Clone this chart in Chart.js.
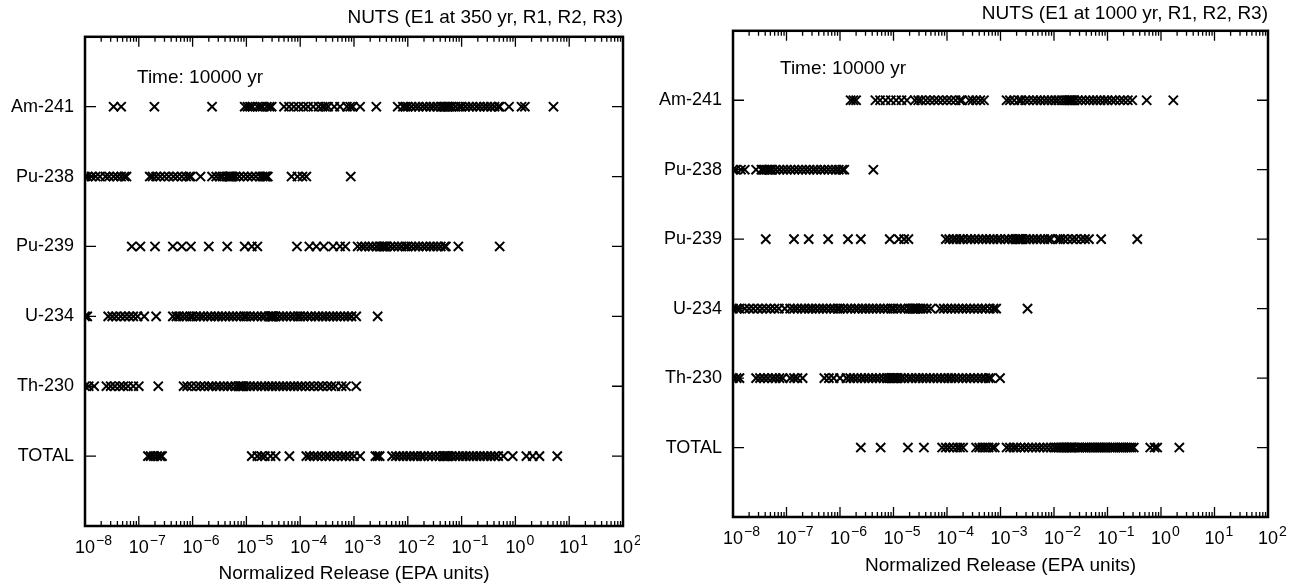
<!DOCTYPE html>
<html>
<head>
<meta charset="utf-8">
<script src="https://cdn.jsdelivr.net/npm/chart.js@4.4.0/dist/chart.umd.min.js"></script>
<style>
html,body{margin:0;padding:0;background:#fff;}
#wrapL{position:absolute;left:0;top:0;width:640px;height:585px;}
#wrapR{position:absolute;left:640px;top:0;width:650px;height:585px;}
</style>
</head>
<body>
<div id="wrapL"><canvas id="cL"></canvas></div>
<div id="wrapR"><canvas id="cR"></canvas></div>
<script>
// ---------- categories & tick labels ----------
const categories = ['Am-241', 'Pu-238', 'Pu-239', 'U-234', 'Th-230', 'TOTAL'];
const xTickValues = [1e-8, 1e-7, 1e-6, 1e-5, 1e-4, 1e-3, 1e-2, 1e-1, 1e0, 1e1, 1e2];
const xTickBase = '10';
const xTickExponents = ['−8', '−7', '−6', '−5', '−4', '−3', '−2', '−1', '0', '1', '2'];
const titleLeft = 'NUTS (E1 at 350 yr, R1, R2, R3)';
const titleRight = 'NUTS (E1 at 1000 yr, R1, R2, R3)';
const timeNote = 'Time: 10000 yr';
const xAxisTitle = 'Normalized Release (EPA units)';

// ---------- left panel: E1 at 350 yr ----------
const am241_350 = [3.4e-8, 4.7e-8, 1.95e-7, 2.3e-6,
  9.3e-6, 1.05e-5, 1.17e-5, 1.3e-5, 1.6e-5, 1.8e-5, 2.0e-5, 2.4e-5, 2.7e-5, 2.95e-5,
  5.0e-5, 6.2e-5, 7.6e-5, 9.3e-5, 1.15e-4, 1.4e-4, 1.75e-4, 2.2e-4, 2.6e-4, 2.9e-4, 3.3e-4, 4.3e-4, 5.5e-4,
  7.4e-4, 8.5e-4, 9.5e-4, 1.3e-3,
  2.6e-3, 6.5e-3,
  8.1e-3, 9.0e-3, 1.0e-2, 1.17e-2, 1.38e-2, 1.6e-2, 1.9e-2, 2.2e-2, 2.6e-2, 3.0e-2, 3.5e-2, 4.1e-2, 4.5e-2, 4.8e-2, 5.1e-2, 5.4e-2, 5.6e-2, 6.0e-2, 6.6e-2, 7.7e-2, 9.0e-2, 0.1, 0.117, 0.138, 0.16, 0.19, 0.22, 0.26, 0.3, 0.35, 0.41, 0.48, 0.51,
  0.76, 1.3, 1.5, 5.1];
const pu238_350 = [1.0e-8, 1.12e-8, 1.32e-8, 1.58e-8, 1.9e-8, 2.4e-8, 2.8e-8, 3.4e-8, 4.0e-8, 4.7e-8, 5.4e-8, 5.9e-8,
  1.6e-7, 1.8e-7, 2.1e-7, 2.5e-7, 3.0e-7, 3.6e-7, 4.4e-7, 5.2e-7, 6.3e-7, 7.6e-7, 8.7e-7, 9.3e-7,
  1.4e-6,
  2.3e-6, 2.75e-6, 3.2e-6, 3.6e-6, 4.2e-6, 4.7e-6, 4.85e-6, 5.0e-6, 5.2e-6, 5.6e-6, 6.3e-6, 7.4e-6, 8.9e-6, 1.06e-5, 1.26e-5, 1.5e-5, 1.8e-5, 2.0e-5, 2.2e-5, 2.3e-5, 2.4e-5, 2.5e-5,
  6.9e-5, 8.9e-5, 1.1e-4, 1.3e-4,
  8.7e-4];
const pu239_350 = [7.4e-8, 1.07e-7, 2.0e-7, 4.3e-7, 6.3e-7, 9.3e-7, 2.0e-6, 4.4e-6, 9.3e-6, 1.26e-5, 1.6e-5,
  8.7e-5, 1.48e-4, 2.0e-4, 2.75e-4, 4.1e-4, 5.5e-4, 6.9e-4,
  1.17e-3, 1.38e-3, 1.6e-3, 1.9e-3, 2.2e-3, 2.6e-3, 3.0e-3, 3.3e-3, 3.5e-3, 3.7e-3, 3.9e-3, 4.1e-3, 4.8e-3, 5.6e-3, 6.6e-3, 7.7e-3, 9.0e-3, 1.0e-2, 1.17e-2, 1.38e-2, 1.6e-2, 1.9e-2, 2.2e-2, 2.6e-2, 3.0e-2, 3.5e-2, 4.1e-2, 4.8e-2, 5.1e-2,
  8.7e-2, 0.51];
const u234_350 = [1.0e-8, 1.1e-8,
  2.7e-8, 3.2e-8, 3.8e-8, 4.6e-8, 5.5e-8, 6.6e-8, 7.9e-8, 9.5e-8, 1.26e-7,
  2.1e-7,
  4.3e-7, 5.0e-7, 5.6e-7, 6.6e-7, 7.7e-7, 9.0e-7, 1.0e-6, 1.17e-6, 1.38e-6, 1.6e-6, 1.9e-6, 2.2e-6, 2.6e-6, 3.0e-6, 3.5e-6, 4.1e-6, 4.8e-6, 5.6e-6, 6.6e-6, 7.7e-6, 9.0e-6, 1.0e-5, 1.17e-5, 1.38e-5, 1.6e-5, 1.9e-5, 2.2e-5, 2.6e-5, 2.8e-5, 2.9e-5, 3.0e-5, 3.1e-5, 3.2e-5, 3.5e-5, 4.1e-5, 4.8e-5, 5.6e-5, 6.6e-5, 7.7e-5, 9.0e-5, 1.0e-4, 1.17e-4, 1.38e-4, 1.6e-4, 1.9e-4, 2.2e-4, 2.6e-4, 3.0e-4, 3.5e-4, 4.1e-4, 4.8e-4, 5.6e-4, 6.6e-4, 7.7e-4, 9.0e-4, 1.1e-3,
  2.75e-3];
const th230_350 = [1.0e-8, 1.17e-8, 1.48e-8,
  2.5e-8, 3.0e-8, 3.6e-8, 4.4e-8, 5.2e-8, 6.3e-8, 7.9e-8, 1.0e-7,
  2.3e-7,
  6.8e-7, 7.9e-7, 9.5e-7, 1.17e-6, 1.4e-6, 1.66e-6, 2.0e-6, 2.3e-6,
  2.75e-6, 3.2e-6, 3.8e-6, 4.5e-6, 5.2e-6, 6.2e-6, 7.1e-6, 7.6e-6, 7.9e-6, 8.3e-6, 8.9e-6, 1.0e-5, 1.17e-5, 1.38e-5, 1.6e-5, 1.9e-5, 2.2e-5, 2.6e-5, 3.0e-5, 3.5e-5, 4.1e-5, 4.8e-5, 5.6e-5, 6.6e-5, 7.7e-5, 9.0e-5, 1.05e-4, 1.25e-4, 1.5e-4, 1.8e-4, 2.2e-4, 2.6e-4, 3.2e-4, 3.8e-4, 4.5e-4,
  5.9e-4, 7.1e-4, 1.1e-3];
const total_350 = [1.48e-7, 1.66e-7, 1.9e-7, 2.2e-7, 2.5e-7, 2.7e-7,
  1.26e-5, 1.6e-5, 1.9e-5, 2.2e-5, 2.8e-5, 3.5e-5,
  6.3e-5,
  1.3e-4, 1.5e-4, 1.8e-4, 2.1e-4, 2.5e-4, 3.0e-4, 3.5e-4, 4.2e-4, 5.0e-4, 6.0e-4, 7.0e-4, 8.3e-4, 1.0e-3, 1.3e-3,
  2.5e-3, 2.75e-3, 3.0e-3,
  5.1e-3, 6.0e-3, 7.0e-3, 8.2e-3, 9.5e-3, 1.1e-2, 1.3e-2, 1.5e-2, 1.75e-2, 2.0e-2, 2.4e-2, 2.8e-2, 3.3e-2, 3.9e-2, 4.5e-2, 4.8e-2, 5.1e-2, 5.4e-2, 5.8e-2, 6.6e-2, 7.7e-2, 9.0e-2, 0.105, 0.12, 0.14, 0.165, 0.19, 0.22, 0.26, 0.3, 0.35, 0.41, 0.48, 0.6,
  0.89, 1.6, 2.1, 2.8, 6.0];

// ---------- right panel: E1 at 1000 yr ----------
const am241_1000 = [1.58e-6, 1.78e-6, 2.0e-6,
  4.6e-6, 5.6e-6, 7.1e-6, 8.9e-6, 1.12e-5, 1.41e-5, 1.78e-5,
  2.5e-5, 2.9e-5, 3.3e-5, 4.0e-5, 4.8e-5, 5.8e-5, 6.9e-5, 8.3e-5, 1.0e-4, 1.2e-4, 1.45e-4, 1.74e-4, 1.9e-4,
  2.6e-4, 3.0e-4, 3.5e-4, 4.2e-4, 4.9e-4,
  1.3e-3, 1.5e-3, 1.8e-3, 2.2e-3, 2.45e-3,
  2.9e-3, 3.4e-3, 4.1e-3, 4.8e-3, 5.6e-3, 6.6e-3, 7.7e-3, 9.0e-3, 1.05e-2, 1.2e-2, 1.4e-2, 1.6e-2, 1.8e-2, 1.9e-2, 2.0e-2, 2.1e-2, 2.2e-2, 2.4e-2, 2.8e-2, 3.3e-2, 3.9e-2, 4.6e-2, 5.4e-2, 6.3e-2, 7.4e-2, 8.7e-2, 0.1, 0.12, 0.14, 0.17, 0.2, 0.24, 0.29,
  0.54, 1.7];
const pu238_1000 = [1.0e-8, 1.12e-8, 1.41e-8, 1.66e-8,
  2.7e-8,
  3.4e-8, 3.6e-8, 3.9e-8, 4.2e-8, 4.5e-8, 4.8e-8, 5.1e-8, 5.4e-8,
  6.3e-8, 7.4e-8, 8.7e-8, 1.02e-7, 1.2e-7, 1.41e-7, 1.66e-7, 1.95e-7, 2.3e-7, 2.7e-7, 3.2e-7, 3.7e-7, 4.4e-7, 5.1e-7, 6.0e-7, 7.1e-7, 8.3e-7, 9.5e-7, 1.1e-6, 1.2e-6,
  4.2e-6];
const pu239_1000 = [4.1e-8, 1.38e-7, 2.6e-7, 6.0e-7, 1.41e-6, 2.45e-6, 8.5e-6, 1.26e-5, 1.58e-5, 1.9e-5,
  9.5e-5, 1.1e-4, 1.3e-4, 1.5e-4, 1.75e-4, 2.0e-4, 2.4e-4, 2.8e-4, 3.3e-4, 3.9e-4, 4.6e-4, 5.4e-4, 6.3e-4, 7.4e-4, 8.7e-4, 1.0e-3, 1.2e-3, 1.4e-3, 1.65e-3, 1.9e-3, 2.1e-3, 2.2e-3, 2.3e-3, 2.4e-3, 2.6e-3, 3.0e-3, 3.5e-3, 4.1e-3, 4.8e-3, 5.6e-3, 6.6e-3, 7.7e-3, 8.7e-3,
  1.17e-2, 1.3e-2, 1.5e-2, 1.8e-2, 2.2e-2, 2.6e-2, 3.2e-2, 3.8e-2, 4.5e-2,
  7.6e-2, 0.36];
const u234_1000 = [1.0e-8, 1.17e-8, 1.32e-8,
  1.66e-8, 2.0e-8, 2.4e-8, 2.9e-8, 3.5e-8, 4.2e-8, 5.0e-8, 6.0e-8, 7.2e-8, 9.3e-8,
  1.17e-7, 1.38e-7, 1.6e-7, 1.9e-7, 2.2e-7, 2.6e-7, 3.0e-7, 3.5e-7, 4.1e-7, 4.8e-7, 5.6e-7, 6.6e-7, 7.7e-7, 9.0e-7, 1.0e-6, 1.17e-6, 1.38e-6, 1.6e-6, 1.9e-6, 2.2e-6, 2.6e-6, 3.0e-6, 3.5e-6, 4.1e-6, 4.8e-6, 5.6e-6, 6.6e-6, 7.7e-6, 9.0e-6, 1.0e-5, 1.17e-5, 1.38e-5, 1.6e-5, 1.9e-5, 2.1e-5, 2.3e-5, 2.4e-5, 2.5e-5, 2.6e-5, 2.8e-5, 3.2e-5, 3.6e-5, 4.2e-5, 5.0e-5,
  7.4e-5, 8.7e-5, 1.02e-4, 1.2e-4, 1.41e-4, 1.66e-4, 1.95e-4, 2.3e-4, 2.7e-4, 3.2e-4, 3.8e-4, 4.5e-4, 5.2e-4, 6.3e-4, 7.4e-4, 8.3e-4,
  3.2e-3];
const th230_1000 = [1.0e-8, 1.17e-8, 1.32e-8,
  2.7e-8, 3.2e-8, 3.8e-8, 4.5e-8, 5.4e-8, 6.3e-8, 7.4e-8, 8.5e-8,
  1.17e-7, 1.38e-7, 1.6e-7, 2.0e-7,
  5.1e-7, 6.2e-7, 7.6e-7, 1.0e-6,
  1.32e-6, 1.55e-6, 1.8e-6, 2.1e-6, 2.5e-6, 2.9e-6, 3.4e-6, 4.0e-6, 4.7e-6, 5.5e-6, 6.5e-6, 7.5e-6, 8.3e-6, 9.0e-6, 9.5e-6, 1.0e-5, 1.06e-5, 1.12e-5, 1.2e-5, 1.38e-5, 1.6e-5, 1.9e-5, 2.2e-5, 2.6e-5, 3.0e-5, 3.5e-5, 4.1e-5, 4.8e-5, 5.6e-5, 6.6e-5, 7.7e-5, 9.0e-5, 1.05e-4, 1.2e-4, 1.4e-4, 1.65e-4, 1.95e-4, 2.3e-4, 2.7e-4, 3.2e-4, 3.8e-4, 4.5e-4, 5.2e-4, 6.0e-4, 6.6e-4,
  9.8e-4];
const total_1000 = [2.45e-6, 5.75e-6, 1.86e-5, 3.7e-5,
  8.1e-5, 9.5e-5, 1.1e-4, 1.3e-4, 1.55e-4, 1.75e-4, 2.0e-4,
  3.5e-4, 4.0e-4, 4.6e-4, 5.2e-4, 6.0e-4, 7.0e-4, 7.8e-4,
  1.3e-3, 1.5e-3, 1.75e-3, 2.0e-3, 2.4e-3, 2.8e-3, 3.3e-3, 3.9e-3, 4.6e-3, 5.4e-3, 6.3e-3, 7.4e-3, 8.7e-3, 1.0e-2, 1.1e-2, 1.2e-2, 1.3e-2, 1.4e-2, 1.5e-2, 1.6e-2, 1.7e-2, 1.8e-2, 1.9e-2, 2.0e-2, 2.1e-2, 2.2e-2, 2.4e-2, 2.8e-2, 3.0e-2, 3.3e-2, 3.6e-2, 3.9e-2, 4.2e-2, 4.6e-2, 5.0e-2, 5.4e-2, 5.8e-2, 6.3e-2, 6.8e-2, 7.4e-2, 8.0e-2, 8.7e-2, 9.3e-2, 0.1, 0.11, 0.12, 0.13, 0.14, 0.155, 0.17, 0.185, 0.2, 0.22, 0.24, 0.26, 0.28, 0.31,
  0.63, 0.76, 0.85, 2.2];

const rows350 = [am241_350, pu238_350, pu239_350, u234_350, th230_350, total_350];
const rows1000 = [am241_1000, pu238_1000, pu239_1000, u234_1000, th230_1000, total_1000];

// ---------- chart construction ----------
const FONT = '"Liberation Sans", Arial, Helvetica, sans-serif';
Chart.defaults.font.family = FONT;
Chart.defaults.color = '#000';
const yAxisLabels = [''].concat(categories, ['']);

const panelDecor = {
  id: 'panelDecor',
  afterDatasetsDraw(chart, args, opts) {
    const {ctx, chartArea: a} = chart;
    const xs = chart.scales.x, ys = chart.scales.y;
    ctx.save();
    ctx.strokeStyle = '#000';
    ctx.lineWidth = 1.3;
    ctx.beginPath();
    for (let i = 0; i < xTickValues.length; i++) {
      const v = xTickValues[i];
      const p = xs.getPixelForValue(v);
      ctx.moveTo(p, a.bottom); ctx.lineTo(p, a.bottom - 10);
      ctx.moveTo(p, a.top); ctx.lineTo(p, a.top + 10);
      if (i < xTickValues.length - 1) {
        for (let m = 2; m <= 9; m++) {
          const q = xs.getPixelForValue(v * m);
          ctx.moveTo(q, a.bottom); ctx.lineTo(q, a.bottom - 5);
          ctx.moveTo(q, a.top); ctx.lineTo(q, a.top + 5);
        }
      }
    }
    categories.forEach(c => {
      const p = ys.getPixelForValue(yAxisLabels.indexOf(c));
      ctx.moveTo(a.left, p); ctx.lineTo(a.left + 11, p);
      ctx.moveTo(a.right, p); ctx.lineTo(a.right - 11, p);
    });
    ctx.stroke();
    ctx.lineWidth = 2.5;
    ctx.strokeRect(a.left, a.top, a.right - a.left, a.bottom - a.top);
    // x tick labels: "10" centred on the decade, exponent as superscript
    ctx.fillStyle = '#000';
    ctx.textBaseline = 'middle';
    ctx.textAlign = 'left';
    const ly = a.bottom + opts.labelDy;
    xTickValues.forEach((v, i) => {
      const p = xs.getPixelForValue(v);
      ctx.font = '18px ' + FONT;
      const w = ctx.measureText(xTickBase).width;
      ctx.fillText(xTickBase, p - w / 2, ly);
      ctx.font = '14px ' + FONT;
      ctx.fillText(xTickExponents[i], p + w / 2 + 1, ly - 7);
    });
    ctx.font = '19px ' + FONT;
    ctx.fillText(opts.note, a.left + opts.noteDx, a.top + opts.noteDy);
    ctx.restore();
  }
};

function makePanel(canvasId, title, rows, cfg) {
  const datasets = categories.map((c, i) => ({
    label: c,
    data: rows[i].map(v => ({x: v, y: c})),
    pointStyle: 'crossRot',
    pointRadius: 6.5,
    pointBorderWidth: 2,
    borderColor: '#000',
    backgroundColor: 'rgba(0,0,0,0)',
    showLine: false
  }));
  return new Chart(document.getElementById(canvasId), {
    type: 'scatter',
    data: {datasets},
    options: {
      responsive: true,
      maintainAspectRatio: false,
      animation: false,
      devicePixelRatio: 1,
      events: [],
      layout: {padding: {left: 0, right: cfg.padRight, top: 0, bottom: 0}},
      plugins: {
        legend: {display: false},
        tooltip: {enabled: false},
        title: {
          display: true, text: title, align: 'end', color: '#000',
          font: {size: 19, weight: 'normal', family: FONT},
          padding: cfg.titlePad
        },
        panelDecor: {note: timeNote, noteDx: cfg.noteDx, noteDy: cfg.noteDy, labelDy: cfg.labelDy}
      },
      scales: {
        x: {
          type: 'logarithmic',
          position: 'bottom',
          min: 1e-8, max: 1e2,
          afterBuildTicks: s => { s.ticks = xTickValues.map(v => ({value: v})); },
          afterFit: s => { s.height = cfg.xHeight; },
          grid: {display: false, drawTicks: false},
          border: {display: false},
          ticks: {display: false},
          title: {
            display: true, text: xAxisTitle, color: '#000',
            font: {size: 19, family: FONT},
            padding: {top: 0, bottom: cfg.xTitlePadBottom}
          }
        },
        y: {
          type: 'category',
          position: 'left',
          labels: yAxisLabels,
          offset: false,
          afterFit: s => { s.width = cfg.yWidth; },
          grid: {display: false, drawTicks: false},
          border: {display: false},
          ticks: {autoSkip: false, padding: 11, color: '#000', font: {size: 18, family: FONT}}
        }
      }
    },
    plugins: [panelDecor]
  });
}

makePanel('cL', titleLeft, rows350, {
  yWidth: 85, padRight: 17, xHeight: 59, titlePad: {top: 6, bottom: 8},
  noteDx: 52, noteDy: 41, labelDy: 22, xTitlePadBottom: 0
});
makePanel('cR', titleRight, rows1000, {
  yWidth: 93, padRight: 22, xHeight: 68, titlePad: {top: 2, bottom: 6},
  noteDx: 47, noteDy: 38, labelDy: 22, xTitlePadBottom: 8
});
</script>
</body>
</html>
